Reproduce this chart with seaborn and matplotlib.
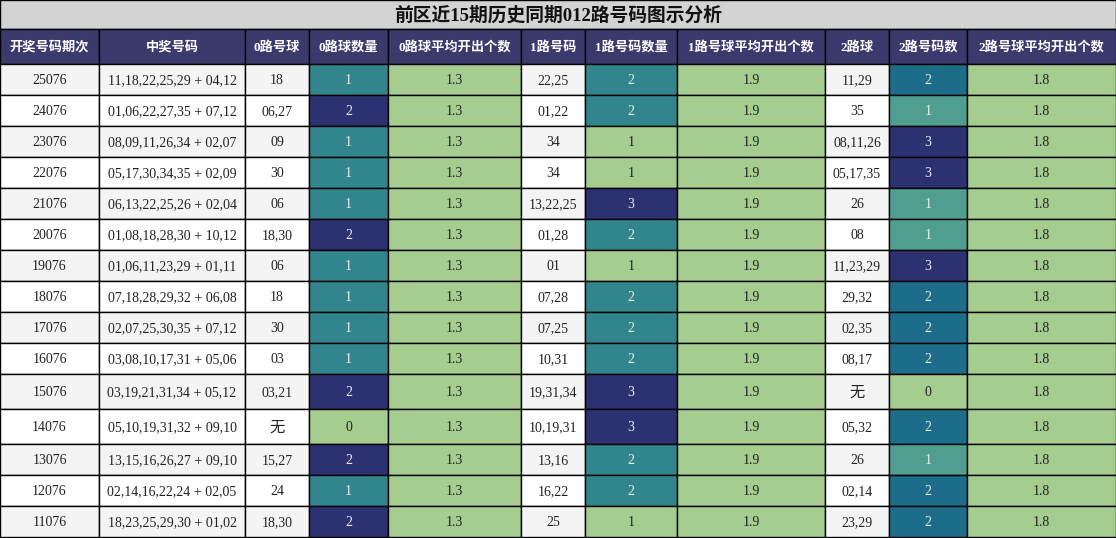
import matplotlib
matplotlib.use("Agg")
import matplotlib.pyplot as plt
from matplotlib.patches import Rectangle
from matplotlib.colors import Normalize, to_rgb
import seaborn as sns

# data
title = "前区近15期历史同期012路号码图示分析"
headers = ["开奖号码期次", "中奖号码", "0路号球", "0路球数量", "0路球平均开出个数",
           "1路号码", "1路号码数量", "1路号球平均开出个数", "2路球", "2路号码数", "2路号球平均开出个数"]

periods = ["25076", "24076", "23076", "22076", "21076", "20076", "19076", "18076",
           "17076", "16076", "15076", "14076", "13076", "12076", "11076"]
numbers = ["11,18,22,25,29 + 04,12", "01,06,22,27,35 + 07,12", "08,09,11,26,34 + 02,07",
           "05,17,30,34,35 + 02,09", "06,13,22,25,26 + 02,04", "01,08,18,28,30 + 10,12",
           "01,06,11,23,29 + 01,11", "07,18,28,29,32 + 06,08", "02,07,25,30,35 + 07,12",
           "03,08,10,17,31 + 05,06", "03,19,21,31,34 + 05,12", "05,10,19,31,32 + 09,10",
           "13,15,16,26,27 + 09,10", "02,14,16,22,24 + 02,05", "18,23,25,29,30 + 01,02"]
road0 = ["18", "06,27", "09", "30", "06", "18,30", "06", "18", "30", "03", "03,21", "无",
         "15,27", "24", "18,30"]
count0 = [1, 2, 1, 1, 1, 2, 1, 1, 1, 1, 2, 0, 2, 1, 2]
avg0 = [1.3] * 15
road1 = ["22,25", "01,22", "34", "34", "13,22,25", "01,28", "01", "07,28", "07,25", "10,31",
         "19,31,34", "10,19,31", "13,16", "16,22", "25"]
count1 = [2, 2, 1, 1, 3, 2, 1, 2, 2, 2, 3, 3, 2, 2, 1]
avg1 = [1.9] * 15
road2 = ["11,29", "35", "08,11,26", "05,17,35", "26", "08", "11,23,29", "29,32", "02,35",
         "08,17", "无", "05,32", "26", "02,14", "23,29"]
count2 = [2, 1, 3, 3, 1, 1, 3, 2, 2, 2, 0, 2, 1, 2, 2]
avg2 = [1.8] * 15

columns = [periods, numbers, road0, count0, avg0, road1, count1, avg1, road2, count2, avg2]
colored = [False, False, False, True, True, False, True, True, False, True, True]

# layout (pixels)
col_edges = [0, 99, 245, 309, 388, 521, 585, 677, 825, 889, 967, 1116]
title_h = 29
head_h = 35
row_h = [35 if ("无" in road0[i] or "无" in road2[i]) else 31 for i in range(len(periods))]

font_mix = ["Liberation Serif", "Noto Sans CJK SC"]
cmap = sns.color_palette("crest", as_cmap=True)

fig = plt.figure(figsize=(11.16, 5.38), dpi=100)
ax = fig.add_axes([0, 0, 1, 1])
W, H = 1116, 538
ax.set_xlim(0, W)
ax.set_ylim(H, 0)
ax.axis("off")

lw = 1.0
ax.add_patch(Rectangle((0, 0), W, title_h, facecolor="#d3d3d3", edgecolor="black", lw=lw))
ax.text(W / 2, title_h / 2 + 1, title, ha="center", va="center", fontsize=13.5,
        fontweight="bold", family=font_mix, color="#111111")

y = title_h
for j, h in enumerate(headers):
    x0, x1 = col_edges[j], col_edges[j + 1]
    ax.add_patch(Rectangle((x0, y), x1 - x0, head_h, facecolor="#3b3a6d", edgecolor="black", lw=lw))
    ax.text((x0 + x1) / 2, y + head_h / 2 + 1, h, ha="center", va="center", fontsize=9.5,
            fontweight="bold", color="white", family=font_mix)

norms = {}
for j, col in enumerate(columns):
    if colored[j]:
        lo, hi = min(col), max(col)
        norms[j] = Normalize(vmin=lo, vmax=hi if hi > lo else lo + 1)

y = title_h + head_h
for i in range(len(periods)):
    h = row_h[i]
    base = "#f4f4f4" if i % 2 == 0 else "white"
    for j, col in enumerate(columns):
        x0, x1 = col_edges[j], col_edges[j + 1]
        val = col[i]
        if colored[j]:
            fc = cmap(norms[j](val))
            r, g, b = to_rgb(fc)
            lum = 0.299 * r + 0.587 * g + 0.114 * b
            tc = "#eeeeee" if lum < 0.55 else "#222222"
            label = f"{val:.1f}" if isinstance(val, float) else str(val)
        else:
            fc = base
            tc = "#222222"
            label = val
        ax.add_patch(Rectangle((x0, y), x1 - x0, h, facecolor=fc, edgecolor="black", lw=lw))
        fs = 11 if label == "无" else 10
        ax.text((x0 + x1) / 2, y + h / 2 + 1, label, ha="center", va="center", fontsize=fs,
                color=tc, family=font_mix)
    y += h

fig.savefig("out.png", dpi=100)
